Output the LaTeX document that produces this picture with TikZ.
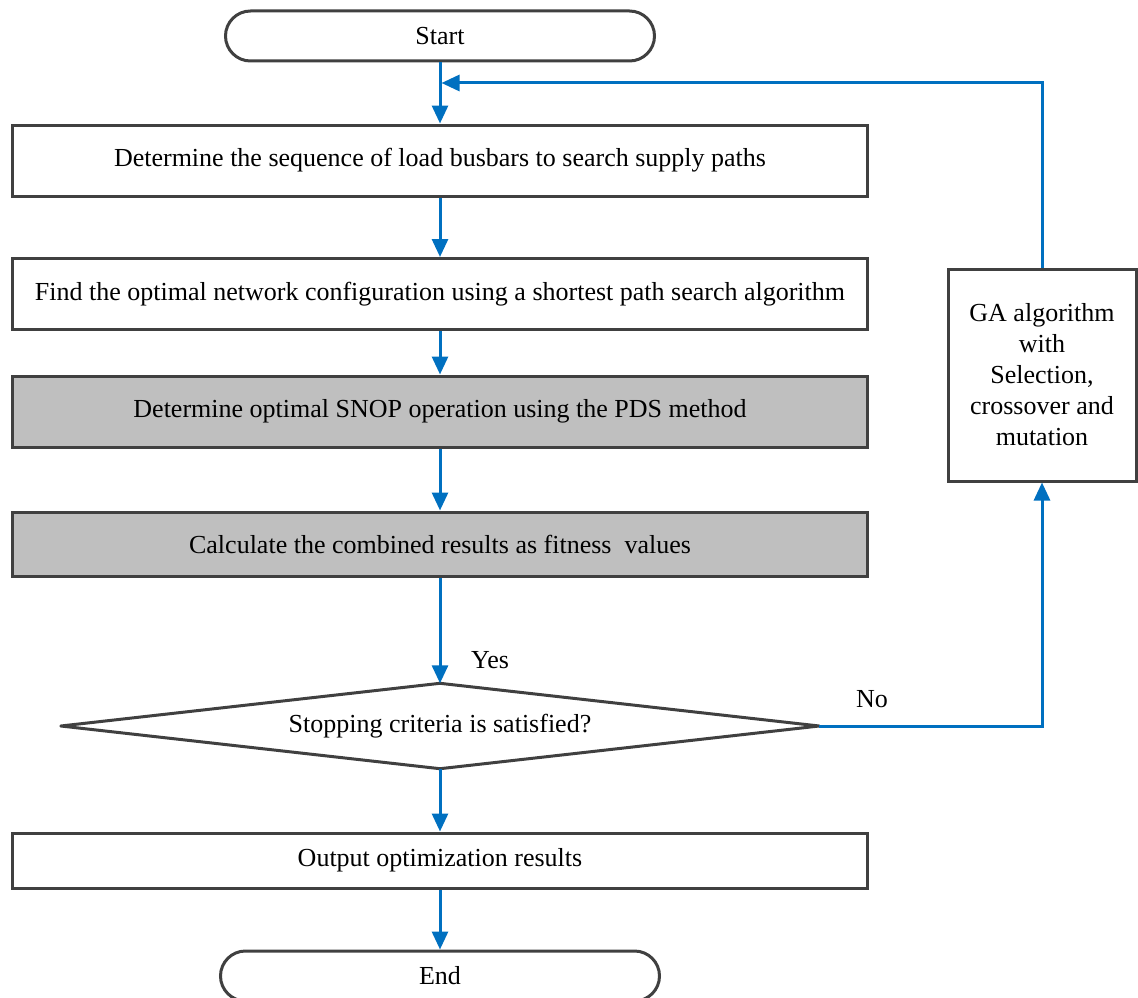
\documentclass[tikz,border=0pt]{standalone}
\usepackage{fontspec}
\setmainfont{Liberation Serif}
\usetikzlibrary{arrows.meta}
\definecolor{frame}{HTML}{404040}
\definecolor{flow}{HTML}{0070C0}
\definecolor{shade}{HTML}{BFBFBF}
\begin{document}
\begin{tikzpicture}[x=1pt,y=-1pt,
  every node/.style={font=\fontsize{26}{30}\selectfont, inner sep=0pt},
  proc/.style={draw=frame, line width=3pt, rectangle, minimum width=855pt, align=center},
  term/.style={draw=frame, line width=3pt, rectangle, rounded corners=25pt, minimum height=50pt},
  flowarrow/.style={draw=flow, line width=3pt, -{Triangle[length=18pt,width=16pt]}}]
\useasboundingbox (0,0) rectangle (1138,998);

\node[term, minimum width=429pt] (start) at (440,36) {Start};
\node[proc, minimum height=71pt] (seq) at (440,160.5) {Determine the sequence of load busbars to search supply paths};
\node[proc, minimum height=71pt] (net) at (440,294) {Find the optimal network configuration using a shortest path search algorithm};
\node[proc, fill=shade, minimum height=71pt] (snop) at (440,411.5) {Determine optimal SNOP operation using the PDS method};
\node[proc, fill=shade, minimum height=64pt] (fit) at (440,544) {Calculate the combined results as fitness\ \ values};
% decision: a plain box whose anchors carry the diamond outline
\node[minimum width=758pt, minimum height=85pt] (stop) at (440,726) {Stopping criteria is satisfied?};
\draw[frame, line width=3pt, line join=round] (stop.west) -- (stop.north) -- (stop.east) -- (stop.south) -- cycle;
\node[proc, minimum height=55pt] (out) at (440,860.5) {Output optimization results};
\node[term, minimum width=439pt] (end) at (440,976) {End};
\node[draw=frame, line width=3pt, rectangle, minimum width=188pt, minimum height=212pt, align=center, font=\fontsize{26}{31}\selectfont] (ga) at (1042,375) {GA algorithm\\with\\Selection,\\crossover and\\mutation};

\node (yes) at (490,660) {Yes};
\node (no) at (872,699) {No};

\coordinate (join) at (441.5,83);

\draw[flowarrow] (start.south) -- (seq.north);
\draw[flowarrow] (ga.north) |- (join);
\draw[flowarrow] (seq.south) -- (net.north);
\draw[flowarrow] (net.south) -- (snop.north);
\draw[flowarrow] (snop.south) -- (fit.north);
\draw[flowarrow] (fit.south) -- (stop.north);
\draw[flowarrow] (stop.south) -- (out.north);
\draw[flowarrow] (out.south) -- (end.north);
\draw[flowarrow] (stop.east) -| (ga.south);
\end{tikzpicture}
\end{document}
